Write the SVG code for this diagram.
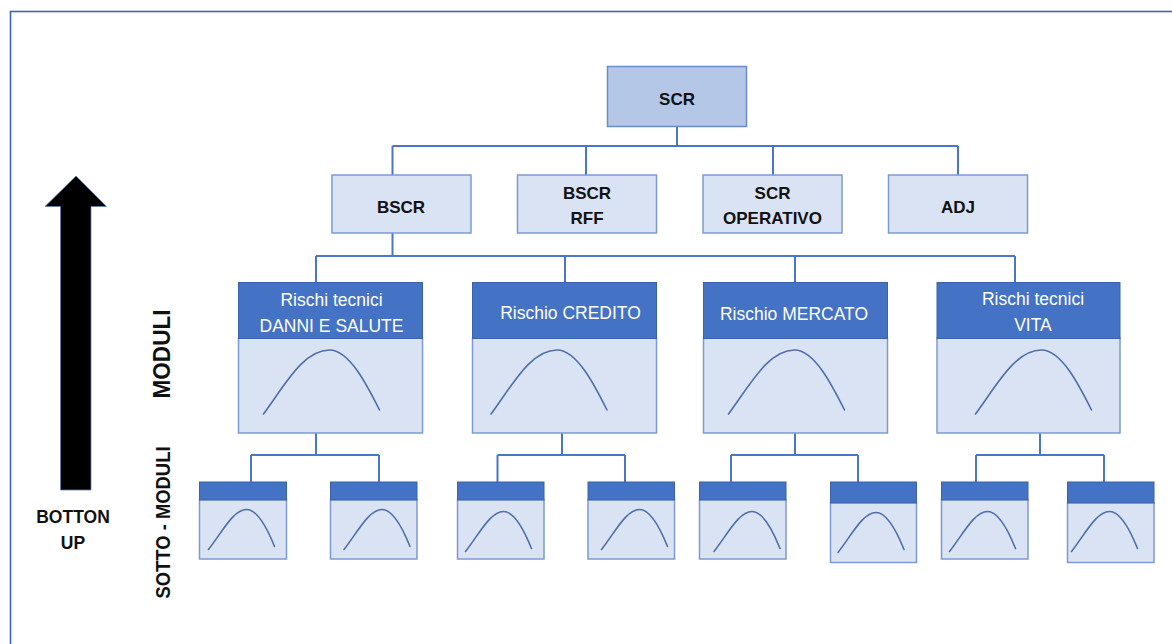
<svg xmlns="http://www.w3.org/2000/svg" width="1172" height="644" viewBox="0 0 1172 644">
  <defs>
    <style>
      .frame { fill: none; stroke: #3F64B4; stroke-width: 1.6; }
      .conn { fill: none; stroke: #4A76C8; stroke-width: 2; }
      .top { fill: #B4C7E7; stroke: #6A8CCB; stroke-width: 1.5; }
      .box { fill: #DAE3F3; stroke: #7D9AD0; stroke-width: 1.5; }
      .head { fill: #4472C4; stroke: #3A62AC; stroke-width: 1; }
      .body { fill: #DAE3F3; stroke: #7D9AD0; stroke-width: 1.5; }
      .curve { fill: none; stroke: #4F6FA8; stroke-width: 1.6; stroke-linecap: round; }
      .lbl { font-family: "Liberation Sans", Arial, sans-serif; font-weight: bold; font-size: 17px; fill: #111111; text-anchor: middle; }
      .hdr { font-family: "Liberation Sans", Arial, sans-serif; font-size: 17.5px; fill: #FFFFFF; text-anchor: middle; }
      .side { font-family: "Liberation Sans", Arial, sans-serif; font-weight: bold; fill: #111111; text-anchor: middle; }
    </style>
    <!-- bell curve used in the module bodies -->
    <path id="bell" class="curve" d="M0,64 C22,34 40,0 66,0 C86,0 104,36 116,60"/>
    <!-- smaller bell curve used in the sub-module bodies -->
    <path id="bellS" class="curve" d="M0,40 C14,22 25,0 38,0 C50,0 60,22 66,37"/>
  </defs>

  <!-- outer frame (open to the right and bottom) -->
  <rect class="frame" x="10.5" y="11.5" width="1200" height="700"/>

  <!-- bottom-up arrow -->
  <g id="arrow">
    <polygon points="76,176 106.5,206.5 91,206.5 91,490 60.5,490 60.5,206.5 45,206.5" fill="#000000" stroke="#5D7DB8" stroke-width="0.8"/>
    <text class="side" x="73" y="523" font-size="17.5">BOTTON</text>
    <text class="side" x="73" y="549" font-size="17.5">UP</text>
  </g>

  <!-- level labels -->
  <g id="level-labels">
    <text class="side" font-size="23" transform="translate(169.5,354) rotate(-90)" textLength="89" lengthAdjust="spacingAndGlyphs">MODULI</text>
    <text class="side" font-size="21" transform="translate(169.5,522.5) rotate(-90)" textLength="152" lengthAdjust="spacingAndGlyphs">SOTTO - MODULI</text>
  </g>

  <!-- connectors -->
  <g id="connectors">
    <!-- SCR to second level -->
    <path class="conn" d="M677,126 V146 M392.5,146 H958 M392.5,146 V175 M586,146 V175 M773,146 V175 M958,146 V175"/>
    <!-- BSCR to modules -->
    <path class="conn" d="M392.5,233 V256 M316,256 H1015 M316,256 V282 M565,256 V282 M795,256 V282 M1015,256 V282"/>
    <!-- modules to sub-modules -->
    <path class="conn" d="M316,433 V455 M251,455 H379 M251,455 V482 M379,455 V482"/>
    <path class="conn" d="M562,433 V455 M497.5,455 H625 M497.5,455 V482 M625,455 V482"/>
    <path class="conn" d="M795,433 V455 M731,455 H858 M731,455 V482 M858,455 V482"/>
    <path class="conn" d="M1040,433 V455 M976,455 H1104 M976,455 V482 M1104,455 V482"/>
  </g>

  <!-- top node -->
  <g id="scr">
    <rect class="top" x="607.5" y="66.5" width="139" height="60"/>
    <text class="lbl" x="677" y="105">SCR</text>
  </g>

  <!-- second level -->
  <g id="bscr">
    <rect class="box" x="332" y="175" width="139" height="58"/>
    <text class="lbl" x="401" y="213">BSCR</text>
  </g>
  <g id="bscr-rff">
    <rect class="box" x="517.5" y="175" width="139" height="58"/>
    <text class="lbl" x="587" y="199">BSCR</text>
    <text class="lbl" x="587" y="224">RFF</text>
  </g>
  <g id="scr-operativo">
    <rect class="box" x="703" y="175" width="139" height="58"/>
    <text class="lbl" x="772.5" y="198.5">SCR</text>
    <text class="lbl" x="772.5" y="224">OPERATIVO</text>
  </g>
  <g id="adj">
    <rect class="box" x="888.5" y="175" width="139" height="58"/>
    <text class="lbl" x="958" y="213">ADJ</text>
  </g>

  <!-- modules -->
  <g id="mod-danni">
    <rect class="body" x="238.5" y="338" width="184" height="95"/>
    <rect class="head" x="238.5" y="282.5" width="184" height="56"/>
    <text class="hdr" x="331.5" y="306">Rischi tecnici</text>
    <text class="hdr" x="331.5" y="331.5">DANNI E SALUTE</text>
    <use href="#bell" x="263.5" y="350"/>
  </g>
  <g id="mod-credito">
    <rect class="body" x="472.5" y="338" width="184" height="95"/>
    <rect class="head" x="472.5" y="282.5" width="184" height="56"/>
    <text class="hdr" x="570.5" y="318.5">Rischio CREDITO</text>
    <use href="#bell" x="491" y="350"/>
  </g>
  <g id="mod-mercato">
    <rect class="body" x="703.5" y="338" width="184" height="95"/>
    <rect class="head" x="703.5" y="282.5" width="184" height="56"/>
    <text class="hdr" x="794" y="320">Rischio MERCATO</text>
    <use href="#bell" x="728.5" y="350"/>
  </g>
  <g id="mod-vita">
    <rect class="body" x="937" y="338" width="183" height="95"/>
    <rect class="head" x="937" y="282.5" width="183" height="56"/>
    <text class="hdr" x="1033" y="305">Rischi tecnici</text>
    <text class="hdr" x="1033" y="330.5">VITA</text>
    <use href="#bell" x="975.5" y="350"/>
  </g>

  <!-- sub-modules -->
  <g id="sub-1">
    <rect class="body" x="199.5" y="499.5" width="87" height="59.5"/>
    <rect class="head" x="199.5" y="482" width="87" height="18"/>
    <use href="#bellS" x="208.5" y="509.5"/>
  </g>
  <g id="sub-2">
    <rect class="body" x="330.5" y="499.5" width="86.5" height="59.5"/>
    <rect class="head" x="330.5" y="482" width="86.5" height="18"/>
    <use href="#bellS" x="344" y="509.5"/>
  </g>
  <g id="sub-3">
    <rect class="body" x="457.5" y="499.5" width="86.5" height="59.5"/>
    <rect class="head" x="457.5" y="482" width="86.5" height="18"/>
    <use href="#bellS" x="465.5" y="511.5"/>
  </g>
  <g id="sub-4">
    <rect class="body" x="588" y="499.5" width="86.5" height="59.5"/>
    <rect class="head" x="588" y="482" width="86.5" height="18"/>
    <use href="#bellS" x="601.5" y="509.5"/>
  </g>
  <g id="sub-5">
    <rect class="body" x="699.5" y="499.5" width="86.5" height="59.5"/>
    <rect class="head" x="699.5" y="482" width="86.5" height="18"/>
    <use href="#bellS" x="714" y="511.5"/>
  </g>
  <g id="sub-6">
    <rect class="body" x="830.5" y="502.5" width="86" height="60"/>
    <rect class="head" x="830.5" y="482" width="86" height="21"/>
    <use href="#bellS" x="838" y="512.5"/>
  </g>
  <g id="sub-7">
    <rect class="body" x="941.5" y="499.5" width="86.5" height="59.5"/>
    <rect class="head" x="941.5" y="482" width="86.5" height="18"/>
    <use href="#bellS" x="949.5" y="511.5"/>
  </g>
  <g id="sub-8">
    <rect class="body" x="1067.5" y="502.5" width="86.5" height="60"/>
    <rect class="head" x="1067.5" y="482" width="86.5" height="21"/>
    <use href="#bellS" x="1071.5" y="511.5"/>
  </g>
</svg>
